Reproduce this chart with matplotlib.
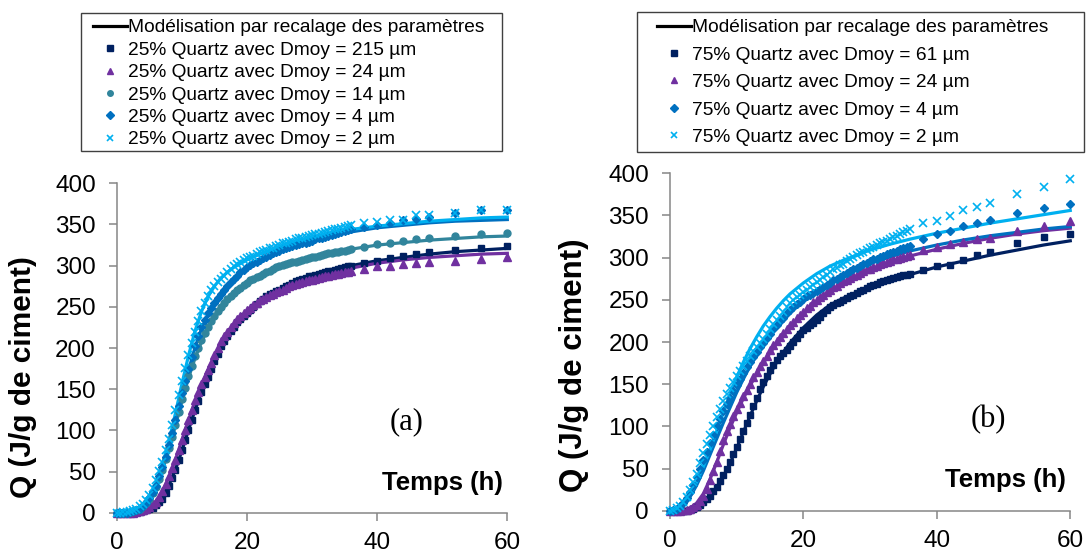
import numpy as np
import matplotlib
matplotlib.use('Agg')
import matplotlib.pyplot as plt
from matplotlib.lines import Line2D
from matplotlib.patches import Rectangle

plt.rcParams['font.family'] = ['Liberation Sans', 'DejaVu Sans']

# Measurement times (h): every 0.5 h up to 36 h, then sparser
t_mes = np.concatenate([np.arange(0, 36.5, 0.5), [38, 40, 42, 44, 46, 48, 52, 56, 60]])
# Model curve times (h)
t_mod = [0, 1, 2, 3, 4, 5, 6, 7, 8, 9, 10, 11, 12, 13, 14, 15, 16, 17, 18,
         20, 22, 24, 26, 28, 30, 33, 36, 40, 44, 48, 52, 56, 60]

# ---- (a) 25% Quartz : measured Q (J/g de ciment)
a_215 = [0, 0, 0, 0, 0, 0, 1, 1, 2, 3, 4, 6, 9, 13, 17, 24, 32, 42, 52, 64,
         76, 88, 100, 113, 125, 136, 146, 156, 165, 175, 184, 193, 202, 209, 215, 221, 226, 231, 235, 239,
         242, 246, 250, 254, 257, 260, 263, 265, 267, 269, 271, 273, 275, 277, 279, 281, 282, 284, 285, 287,
         288, 289, 290, 291, 292, 293, 294, 295, 296, 297, 298, 299, 300,
         303, 306, 309, 312, 314, 316, 319, 321, 324]
a_24 = [0, 0, 0, 0, 0, 0, 1, 2, 3, 5, 7, 10, 13, 19, 26, 35, 44, 54, 64, 76,
        88, 100, 112, 125, 137, 147, 156, 165, 173, 182, 191, 200, 208, 214, 220, 225, 230, 235, 239, 243,
        246, 249, 252, 255, 258, 260, 262, 264, 266, 268, 269, 271, 273, 275, 276, 278, 279, 280, 281, 282,
        283, 284, 285, 286, 287, 288, 289, 290, 290, 291, 292, 292, 293,
        296, 299, 300, 302, 303, 304, 306, 308, 310]
a_14 = [0, 0, 0, 0, 1, 2, 3, 5, 8, 12, 17, 24, 31, 41, 52, 65, 78, 92, 107, 122,
        138, 152, 166, 178, 190, 200, 210, 218, 226, 233, 239, 245, 250, 255, 259, 263, 267, 270, 273, 276,
        279, 282, 284, 286, 288, 290, 292, 294, 296, 298, 299, 301, 302, 303, 304, 305, 306, 307, 308, 309,
        310, 311, 312, 313, 314, 315, 315, 316, 317, 318, 318, 319, 320,
        323, 326, 328, 330, 332, 333, 336, 338, 340]
a_4 = [0, 0, 0, 0, 1, 2, 3, 5, 8, 12, 18, 25, 33, 44, 55, 68, 82, 97, 112, 129,
       145, 160, 175, 189, 202, 214, 225, 234, 242, 249, 255, 261, 266, 271, 275, 280, 284, 288, 292, 295,
       298, 301, 303, 305, 307, 309, 311, 313, 315, 317, 318, 320, 321, 323, 324, 325, 326, 327, 328, 329,
       330, 332, 333, 334, 335, 336, 337, 338, 340, 341, 342, 343, 344,
       347, 349, 352, 355, 357, 359, 364, 367, 367]
a_2 = [0, 0, 1, 1, 2, 3, 5, 8, 11, 16, 22, 30, 40, 51, 62, 76, 90, 107, 125, 143,
       160, 176, 192, 206, 220, 233, 245, 255, 263, 270, 275, 280, 284, 288, 292, 296, 299, 302, 304, 307,
       309, 311, 312, 314, 316, 318, 319, 321, 322, 324, 325, 327, 328, 329, 330, 332, 333, 334, 335, 336,
       337, 338, 339, 340, 341, 342, 343, 344, 345, 346, 347, 348, 349,
       352, 353, 355, 356, 361, 361, 364, 367, 368]

# (a) model curves
am_215 = [0, 0, 0, 1, 2, 5, 10, 19, 33, 52, 75, 100, 124, 146, 166, 184, 199, 212, 223,
          241, 255, 266, 275, 282, 288, 295, 300, 306, 310, 314, 317, 319, 321]
am_24 = [0, 0, 0, 1, 3, 7, 14, 26, 43, 64, 88, 112, 135, 155, 173, 189, 203, 215, 226,
         243, 256, 266, 274, 280, 285, 292, 297, 303, 307, 310, 312, 314, 315]
am_14 = [0, 0, 1, 3, 8, 17, 31, 51, 76, 105, 135, 163, 187, 207, 224, 238, 249, 258, 266,
         278, 288, 296, 302, 307, 311, 316, 320, 325, 328, 331, 333, 335, 336]
am_4 = [0, 0, 1, 4, 9, 18, 33, 54, 80, 110, 142, 172, 200, 223, 241, 256, 267, 277, 285,
        297, 306, 314, 320, 326, 330, 336, 341, 346, 349, 352, 354, 355, 356]
am_2 = [0, 0, 2, 5, 10, 20, 36, 58, 86, 120, 156, 190, 220, 244, 262, 275, 285, 292, 298,
        307, 314, 320, 326, 331, 335, 340, 344, 348, 351, 354, 356, 358, 359]

# ---- (b) 75% Quartz : measured Q (J/g de ciment)
b_61 = [0, 0, 0, 0, 0, 0, 1, 2, 4, 7, 10, 14, 18, 23, 28, 35, 42, 50, 58, 67,
        76, 85, 95, 104, 114, 124, 134, 144, 153, 160, 167, 173, 179, 183, 187, 191, 195, 200, 205, 210,
        214, 217, 220, 223, 226, 230, 234, 238, 242, 244, 246, 248, 250, 252, 254, 256, 258, 260, 262, 264,
        266, 268, 269, 271, 272, 274, 275, 276, 277, 278, 279, 280, 281,
        285, 290, 291, 297, 303, 307, 317, 324, 328]
b_24 = [0, 0, 0, 0, 1, 1, 2, 4, 7, 12, 18, 26, 36, 47, 58, 71, 84, 94, 103, 112,
        120, 128, 136, 143, 150, 158, 165, 172, 178, 184, 190, 196, 201, 206, 211, 216, 220, 224, 228, 232,
        236, 240, 243, 247, 250, 253, 256, 259, 262, 265, 267, 270, 272, 274, 276, 278, 280, 282, 284, 286,
        287, 289, 290, 292, 294, 295, 296, 298, 299, 300, 301, 302, 303,
        309, 313, 316, 319, 322, 323, 332, 338, 343]
b_4 = [0, 1, 2, 5, 9, 15, 22, 31, 40, 50, 60, 70, 80, 90, 100, 109, 118, 126, 134, 142,
       149, 156, 163, 170, 176, 182, 188, 194, 199, 205, 210, 215, 220, 225, 229, 234, 238, 242, 245, 248,
       251, 254, 256, 258, 260, 263, 265, 268, 270, 273, 275, 277, 279, 282, 284, 286, 288, 290, 292, 294,
       296, 298, 299, 301, 302, 304, 305, 307, 308, 310, 311, 313, 314,
       322, 328, 332, 337, 341, 345, 353, 359, 364]
b_2 = [0, 1, 3, 6, 10, 16, 24, 34, 44, 56, 68, 79, 90, 101, 111, 121, 130, 138, 146, 153,
       160, 166, 172, 178, 183, 189, 194, 199, 204, 210, 215, 221, 226, 231, 236, 241, 246, 250, 253, 256,
       259, 262, 265, 268, 271, 274, 277, 280, 283, 286, 288, 291, 293, 296, 298, 301, 303, 305, 307, 309,
       311, 313, 315, 317, 318, 320, 322, 324, 326, 328, 330, 332, 334,
       341, 343, 349, 357, 360, 365, 376, 384, 393]

# (b) model curves
bm_61 = [0, 0, 0, 1, 4, 9, 17, 27, 40, 56, 74, 93, 112, 130, 147, 162, 176, 188, 199,
         217, 232, 244, 252, 259, 265, 273, 280, 289, 296, 303, 309, 315, 320]
bm_24 = [0, 0, 1, 3, 9, 20, 37, 57, 78, 98, 116, 133, 148, 162, 175, 187, 198, 208, 217,
         233, 247, 259, 269, 278, 285, 294, 302, 310, 317, 323, 328, 332, 335]
bm_4 = [0, 1, 6, 16, 30, 47, 66, 85, 104, 122, 140, 156, 171, 185, 198, 209, 219, 228, 236,
        250, 261, 271, 279, 287, 293, 301, 308, 315, 321, 326, 330, 334, 337]
bm_2 = [0, 1, 7, 18, 34, 52, 72, 94, 116, 138, 158, 176, 192, 206, 219, 230, 240, 249, 257,
        270, 281, 290, 297, 303, 309, 316, 322, 329, 335, 341, 346, 351, 356]

labels_a = ['25% Quartz avec Dmoy = 215 µm', '25% Quartz avec Dmoy = 24 µm',
            '25% Quartz avec Dmoy = 14 µm', '25% Quartz avec Dmoy = 4 µm',
            '25% Quartz avec Dmoy = 2 µm']
labels_b = ['75% Quartz avec Dmoy = 61 µm', '75% Quartz avec Dmoy = 24 µm',
            '75% Quartz avec Dmoy = 4 µm', '75% Quartz avec Dmoy = 2 µm']
model_label = 'Modélisation par recalage des paramètres'

navy, purple, teal, blue, cyan = '#002060', '#7030A0', '#31859C', '#0070C0', '#00B0F0'
style = {
    'sq': dict(marker='s', ms=5, color=navy),
    'tri': dict(marker='^', ms=6, color=purple),
    'circ': dict(marker='o', ms=5, color=teal),
    'dia': dict(marker='D', ms=4.5, color=blue),
    'x': dict(marker='x', ms=6, mew=1.2, color=cyan),
}

fig = plt.figure(figsize=(10.91, 5.55), dpi=100)
ax1 = fig.add_axes([0.107, 0.0762, 0.358, 0.5935])
ax2 = fig.add_axes([0.614, 0.0798, 0.367, 0.6079])

panel_a = [(a_215, am_215, 'sq'), (a_24, am_24, 'tri'), (a_14, am_14, 'circ'),
           (a_4, am_4, 'dia'), (a_2, am_2, 'x')]
panel_b = [(b_61, bm_61, 'sq'), (b_24, bm_24, 'tri'), (b_4, bm_4, 'dia'), (b_2, bm_2, 'x')]

grey = '#868686'
for ax, panel, labels in [(ax1, panel_a, labels_a), (ax2, panel_b, labels_b)]:
    for meas, mod, key in panel:
        st = style[key]
        ax.plot(t_mod, mod, color=st['color'], lw=2.3, zorder=2, clip_on=False)
    for meas, mod, key in panel:
        st = style[key]
        ax.plot(t_mes, meas, ls='none', zorder=3, clip_on=False, **st)
    ax.set_xlim(0, 60)
    ax.set_ylim(0, 400)
    ax.set_xticks([0, 20, 40, 60])
    ax.set_yticks(range(0, 401, 50))
    for s in ['top', 'right']:
        ax.spines[s].set_visible(False)
    for s in ['left', 'bottom']:
        ax.spines[s].set_color(grey)
        ax.spines[s].set_linewidth(1.1)
    ax.tick_params(direction='out', length=6, width=1.1, color=grey, labelsize=17.5)
    ax.tick_params(axis='y', pad=9)
    ax.tick_params(axis='x', pad=8)
    ax.text(0.989, 0.069, 'Temps (h)', transform=ax.transAxes, ha='right', va='baseline',
            fontsize=18.5, fontweight='bold')

    handles = [Line2D([], [], color='black', lw=2.3)]
    for meas, mod, key in panel:
        handles.append(Line2D([], [], ls='none', **style[key]))
    leg_labels = [model_label] + labels
    if ax is ax1:
        anchor, spacing = (93 / 1091, 1 - 19 / 555), 0.26
    else:
        anchor, spacing = (657 / 1091, 1 - 19 / 555), 0.52
    ax.legend(handles, leg_labels, loc='upper left', bbox_to_anchor=anchor,
              bbox_transform=fig.transFigure, frameon=False, fontsize=13.8,
              borderpad=0, borderaxespad=0, handlelength=1.75, handletextpad=0.1,
              labelspacing=spacing, markerscale=0.8)

fig.text(407 / 1091, 1 - 422 / 555, '(a)', fontsize=22, family='Liberation Serif',
         ha='center', va='center')
fig.text(988 / 1091, 1 - 420 / 555, '(b)', fontsize=22, family='Liberation Serif',
         ha='center', va='center')

# legend frames and y labels
fig.add_artist(Rectangle((81 / 1091, 1 - 151 / 555), 421 / 1091, 138 / 555,
                         transform=fig.transFigure, fill=False, ec='#404040', lw=1))
fig.add_artist(Rectangle((637 / 1091, 1 - 152 / 555), 447 / 1091, 140 / 555,
                         transform=fig.transFigure, fill=False, ec='#404040', lw=1))
fig.text(23 / 1091, 1 - 377 / 555, 'Q (J/g de ciment)', rotation=90, ha='center', va='center',
         fontsize=21.5, fontweight='bold')
fig.text(574 / 1091, 1 - 365 / 555, 'Q (J/g de ciment)', rotation=90, ha='center', va='center',
         fontsize=22.5, fontweight='bold')

fig.savefig('out.png', dpi=100)
